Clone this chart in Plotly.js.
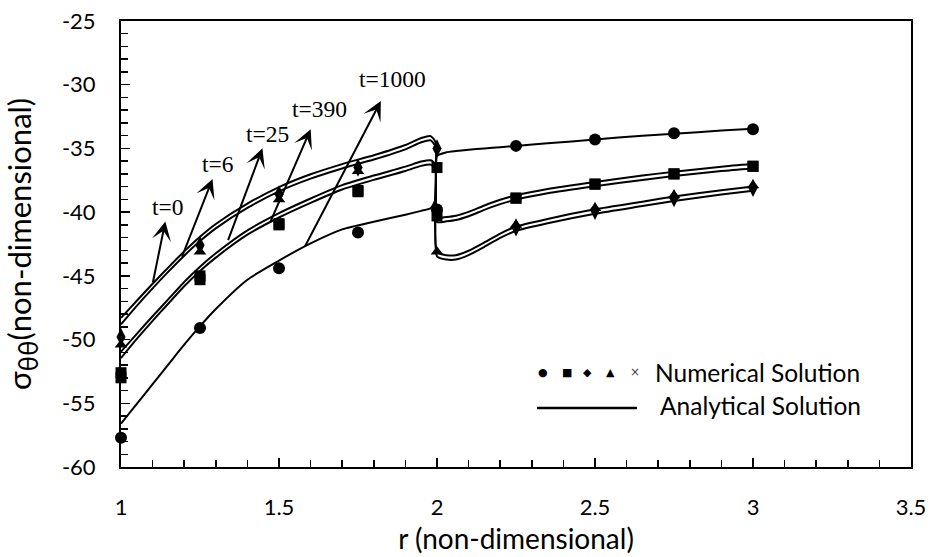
<!DOCTYPE html>
<html><head><meta charset="utf-8">
<script src="https://cdn.plot.ly/plotly-3.0.1.min.js"></script>
<style>html,body{margin:0;padding:0;background:#fff}#chart{width:932px;height:557px}</style>
</head><body><div id="chart"></div>
<script>
// analytical solution grid (r, non-dimensional)
const rGrid = [1.0,1.05,1.1,1.15,1.2,1.25,1.3,1.4,1.5,1.6,1.7,1.8,1.9,1.95,1.98,1.995,2.0,2.03,2.06,2.1,2.15,2.2,2.25,2.35,2.5,2.65,2.75,2.9,3.0];
const anaT0 = [-48.3,-46.95,-45.62,-44.33,-43.08,-41.93,-40.93,-39.33,-38.03,-37.03,-36.23,-35.53,-34.73,-34.18,-34.03,-34.5,-43.13,-43.38,-43.38,-43.03,-42.38,-41.68,-41.13,-40.53,-39.78,-39.18,-38.78,-38.28,-37.98];
const anaT6 = [-48.8,-47.35,-45.98,-44.67,-43.42,-42.27,-41.27,-39.67,-38.37,-37.37,-36.57,-35.87,-35.07,-34.52,-34.37,-34.85,-43.47,-43.72,-43.72,-43.37,-42.72,-42.02,-41.47,-40.87,-40.12,-39.52,-39.12,-38.62,-38.32];
const anaT25 = [-50.95,-49.55,-48.17,-46.83,-45.48,-44.28,-43.23,-41.43,-40.08,-38.93,-37.88,-37.13,-36.43,-36.03,-35.93,-36.25,-40.43,-40.38,-40.28,-39.98,-39.48,-39.03,-38.68,-38.18,-37.63,-37.13,-36.83,-36.43,-36.23];
const anaT390 = [-51.45,-49.95,-48.53,-47.17,-45.82,-44.62,-43.57,-41.77,-40.42,-39.27,-38.22,-37.47,-36.77,-36.37,-36.27,-36.6,-40.77,-40.72,-40.62,-40.32,-39.82,-39.37,-39.02,-38.52,-37.97,-37.47,-37.17,-36.77,-36.57];
const anaT1000 = [-56.6,-55.05,-53.5,-51.95,-50.4,-48.95,-47.6,-45.3,-43.8,-42.45,-41.35,-40.75,-40.2,-39.9,-39.7,-39.0,-35.6,-35.3,-35.2,-35.1,-35.0,-34.9,-34.8,-34.6,-34.3,-34.0,-33.85,-33.6,-33.45];

// numerical solution points
const rNum = [1, 1.25, 1.5, 1.75, 2, 2.25, 2.5, 2.75, 3];
const numT0 = [-49.8,-42.6,-38.6,-36.5,-35.0,-41.2,-39.9,-38.9,-38.1];
const numT6 = [-50.4,-43.1,-39.0,-36.8,-43.1,-41.0,-39.7,-38.7,-37.9];
const numT25 = [-52.6,-45.0,-40.9,-38.3,-36.5,-38.9,-37.8,-37.0,-36.4];
const numT390 = [-53.0,-45.3,-41.0,-38.4,-40.3,-38.9,-37.8,-37.0,-36.4];
const numT1000 = [-57.7,-49.1,-44.4,-41.6,-39.8,-34.8,-34.3,-33.8,-33.5];

const timeLabels = ['t=0','t=6','t=25','t=390','t=1000'];
const xTickVals = [1, 1.5, 2, 2.5, 3, 3.5];
const xTickText = ['1','1.5','2','2.5','3','3.5'];
const yTickVals = [-60,-55,-50,-45,-40,-35,-30,-25];
const yTickText = ['-60','-55','-50','-45','-40','-35','-30','-25'];

const sans = 'Lato, "Open Sans", "DejaVu Sans", sans-serif';
const serif = '"Liberation Serif", "DejaVu Serif", serif';

const traces = [];
[anaT0, anaT6, anaT25, anaT390, anaT1000].forEach((ys, i) => {
  traces.push({x: rGrid, y: ys, type: 'scatter', mode: 'lines', name: 'Analytical ' + timeLabels[i],
    line: {color: '#000', width: 2, shape: 'spline', smoothing: 0.6}, showlegend: false});
});
const numSets = [
  [numT1000, 'circle', 12, 't=1000'],
  [numT25, 'square', 11, 't=25'],
  [numT390, 'square', 11, 't=390'],
  [numT0, 'diamond-tall', 13, 't=0'],
  [numT6, 'triangle-up', 11, 't=6']
];
numSets.forEach(s => {
  traces.push({x: rNum, y: s[0], type: 'scatter', mode: 'markers', name: 'Numerical ' + s[3],
    marker: {symbol: s[1], size: s[2], color: '#000'}, cliponaxis: false, showlegend: false});
});

// arrows: tail on the curve (x,y), label at (ax,ay), arrowhead next to the label
const arrowTails = [[1.101,-45.5],[1.193,-43.5],[1.339,-42.2],[1.472,-40.8],[1.582,-42.7]];
const labelPos = [[1.1497,-39.59],[1.3076,-36.26],[1.4648,-33.85],[1.6285,-31.88],[1.8579,-29.59]];
const headGap = [0, 0, 0, 6.5, 8];

const annotations = [];
for (let i = 0; i < 5; i++) {
  annotations.push({x: arrowTails[i][0], y: arrowTails[i][1], ax: labelPos[i][0], ay: labelPos[i][1],
    xref: 'x', yref: 'y', axref: 'x', ayref: 'y', text: timeLabels[i],
    font: {family: serif, size: 23.5, color: '#000'},
    showarrow: true, arrowside: 'start', startarrowhead: 3, startarrowsize: 1.6, arrowwidth: 2,
    arrowcolor: '#000', startstandoff: headGap[i], standoff: 0});
}
// legend
const legSyms = ['●','■','◆','▲','×'];
const legX = [0.5342, 0.5646, 0.5911, 0.6190, 0.6506];
legSyms.forEach((s, i) => annotations.push({xref: 'paper', yref: 'paper', x: legX[i], y: 0.213, text: s,
  showarrow: false, xanchor: 'center', yanchor: 'middle', font: {family: '"DejaVu Sans", sans-serif', size: i === 4 ? 12 : 11, color: i === 4 ? '#444' : '#000'}}));
annotations.push({xref: 'paper', yref: 'paper', x: 0.6734, y: 0.213, text: 'Numerical Solution', showarrow: false,
  xanchor: 'left', yanchor: 'middle', font: {family: sans, size: 24.5, color: '#000'}});
annotations.push({xref: 'paper', yref: 'paper', x: 0.6797, y: 0.137, text: 'Analytical Solution', showarrow: false,
  xanchor: 'left', yanchor: 'middle', font: {family: sans, size: 24.5, color: '#000'}});

const layout = {
  width: 932, height: 557,
  margin: {l: 121, r: 21, t: 21, b: 90},
  paper_bgcolor: '#fff', plot_bgcolor: '#fff',
  showlegend: false,
  xaxis: {range: [1, 3.5], tickvals: xTickVals, ticktext: xTickText, ticks: 'inside', ticklen: 9, tickwidth: 1.5, tickcolor: '#000',
    minor: {dtick: 0.1, tick0: 1, ticks: 'inside', ticklen: 7, tickwidth: 1.5, tickcolor: '#000'},
    showline: true, linewidth: 2, linecolor: '#000', mirror: true, showgrid: false, zeroline: false,
    tickfont: {family: sans, size: 22, color: '#000'}, ticklabelstandoff: 20,
    title: {text: 'r (non-dimensional)', font: {family: sans, size: 28, color: '#000'}, standoff: 10}},
  yaxis: {range: [-60, -25], tickvals: yTickVals, ticktext: yTickText, ticks: 'inside', ticklen: 9, tickwidth: 1.5, tickcolor: '#000',
    minor: {dtick: 1, tick0: -60, ticks: 'inside', ticklen: 7, tickwidth: 1.5, tickcolor: '#000'},
    showline: true, linewidth: 2, linecolor: '#000', mirror: true, showgrid: false, zeroline: false,
    tickfont: {family: sans, size: 22, color: '#000'}, ticklabelstandoff: 19,
    title: {text: 'σ<sub><span style="font-size:26px">θθ</span></sub>(non-dimensional)', font: {family: sans, size: 31, color: '#000'}, standoff: 21}},
  xaxis2: {overlaying: 'x', side: 'top', anchor: 'y', range: [1, 3.5], tickvals: xTickVals, ticks: 'inside', ticklen: 15, tickwidth: 1.5, tickcolor: '#000',
    minor: {dtick: 0.1, tick0: 1, ticks: 'inside', ticklen: 11, tickwidth: 1.5, tickcolor: '#000'},
    showticklabels: false, showline: false, showgrid: false, zeroline: false},
  yaxis2: {overlaying: 'y', side: 'right', anchor: 'x', range: [-60, -25], tickvals: yTickVals, ticks: 'inside', ticklen: 15, tickwidth: 1.5, tickcolor: '#000',
    minor: {dtick: 1, tick0: -60, ticks: 'inside', ticklen: 11, tickwidth: 1.5, tickcolor: '#000'},
    showticklabels: false, showline: false, showgrid: false, zeroline: false},
  annotations: annotations,
  shapes: [{type: 'line', xref: 'paper', yref: 'paper', x0: 0.5266, x1: 0.6532, y0: 0.1323, y1: 0.1323, line: {color: '#000', width: 2.5}}]
};
Plotly.newPlot('chart', traces, layout, {displayModeBar: false, staticPlot: true});
</script></body></html>
